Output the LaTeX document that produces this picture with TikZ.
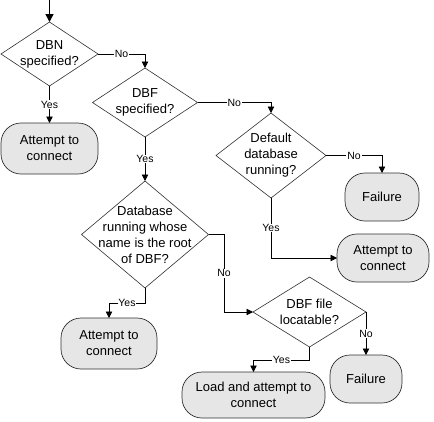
\documentclass[tikz,border=0pt]{standalone}
\usepackage{fontspec}
\setmainfont{Liberation Sans}
\usetikzlibrary{shapes.geometric,arrows.meta}
\definecolor{boxfill}{HTML}{E6E6E6}
\definecolor{edge}{HTML}{303030}
\tikzset{
  dec/.style={shape=diamond,draw=edge,line width=0.6pt,inner sep=0pt,outer sep=0pt,
    minimum width=#1},
  dtext/.style={align=center,font=\fontsize{13}{16}\selectfont,inner sep=0pt},
  term/.style={draw=edge,fill=boxfill,line width=0.7pt,rounded corners=20pt,align=center,
    font=\fontsize{13}{16}\selectfont,inner sep=0pt,outer sep=0pt},
  conn/.style={draw=black,line width=0.8pt,-{Triangle[width=6.5pt,length=6.5pt]}},
  lab/.style={fill=white,inner sep=0.8pt,font=\fontsize{10.5}{12}\selectfont},
}
\begin{document}
\begin{tikzpicture}[x=1pt,y=-1pt]
\useasboundingbox (0,0) rectangle (434,421);
% decisions
\node[dec=97pt,minimum height=64pt] (dbn) at (49.5,54) {};
\node[dtext] (dbnT) at (dbn.center) {DBN\\specified?};
\node[dec=105pt,minimum height=69pt] (dbf) at (145,102.5) {};
\node[dtext] (dbfT) at (dbf.center) {DBF\\specified?};
\node[dec=110pt,minimum height=85pt] (def) at (271,155.5) {};
\node[dtext] (defT) at (def.center) {Default\\database\\running?};
\node[dec=127pt,minimum height=107pt] (dbr) at (145,234.5) {};
\node[dtext] (dbrT) at (dbr.center) {Database\\running whose\\name is the root\\of DBF?};
\node[dec=113pt,minimum height=70pt] (file) at (309.5,312) {};
\node[dtext] (fileT) at (file.center) {DBF file\\locatable?};
% terminals
\node[term,minimum width=97pt,minimum height=51pt] (att1) at (49.5,148.5) {Attempt to\\connect};
\node[term,minimum width=92pt,minimum height=48pt] (att2) at (383,258) {Attempt to\\connect};
\node[term,minimum width=96pt,minimum height=51pt] (att3) at (109,343.5) {Attempt to\\connect};
\node[term,minimum width=74pt,minimum height=48pt] (fail1) at (382,197) {Failure};
\node[term,minimum width=72pt,minimum height=48pt] (fail2) at (366,379) {Failure};
\node[term,minimum width=143pt,minimum height=46pt] (load) at (253.5,395) {Load and attempt to\\connect};
% connectors
\coordinate (start) at (49.5,0);
\draw[conn,line width=1.4pt,-{Triangle[width=8pt,length=8pt]}] (start) -- (dbn.north);
\draw[conn] (dbn.south) -- node[lab]{Yes} (att1.north);
\draw[conn] (dbn.east) -| node[lab,pos=0.25]{No} (dbf.north);
\draw[conn] (dbf.east) -| node[lab,pos=0.25]{No} (def.north);
\draw[conn] (dbf.south) -- node[lab]{Yes} (dbr.north);
\draw[conn] (def.east) -| node[lab,pos=0.25]{No} (fail1.north);
\draw[conn] (def.south) |- node[lab,pos=0.25]{Yes} (att2.west);
\draw[conn] (dbr.east) -- ++(15.5,0) |- node[lab,pos=0.25]{No} (file.west);
\draw[conn] (dbr.south) -- ++(0,15) -| node[lab,pos=0.25]{Yes} (att3.north);
\draw[conn] (file.south) -- ++(0,13) -| node[lab,pos=0.25]{Yes} (load.north);
\draw[conn] (file.east) -- node[lab]{No} (fail2.north);
\end{tikzpicture}
\end{document}
